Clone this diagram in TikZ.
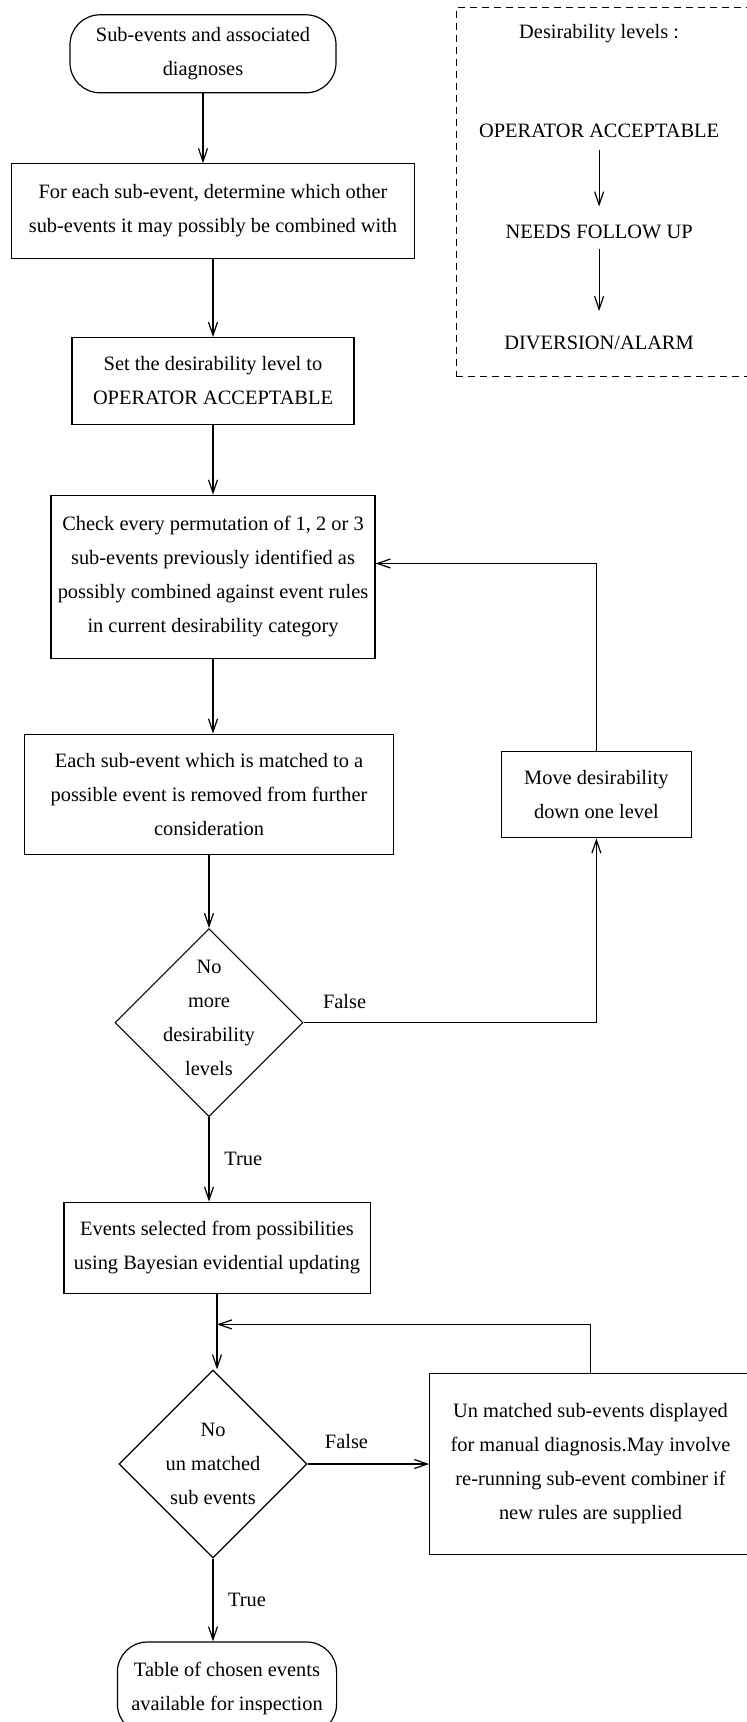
\documentclass[tikz,border=0pt]{standalone}
\usepackage{fontspec}
\setmainfont{Liberation Serif}
\usetikzlibrary{arrows.meta, positioning, shapes.geometric}

\begin{document}
\begin{tikzpicture}[
      x=1pt, y=1pt,
      every node/.style={font=\fontsize{10.2pt}{17pt}\selectfont},
      caixa/.style={draw, line width=0.6pt, align=center, inner sep=0pt},
      terminal/.style={caixa, rounded corners=15pt},
      decisao/.style={draw, line width=0.6pt, diamond, aspect=1, align=center,
                      inner sep=-6pt, minimum width=94pt, minimum height=94pt},
      seta/.style={-{Straight Barb[length=6.5pt, width=4.5pt]}, line width=0.6pt},
      rotulo/.style={inner sep=0pt}
    ]
    \useasboundingbox (0,0) rectangle (373.5,-861);
    \node[terminal, minimum width=133pt, minimum height=39pt] (ini) at (101.5,-26.9)
      {Sub-events and associated\\ diagnoses};
    \node[caixa, below=34.9pt of ini, xshift=5pt, minimum width=201.6pt, minimum height=47.2pt] (e1)
      {For each sub-event, determine which other\\ sub-events it may possibly be combined with};
    \node[caixa, below=39.1pt of e1, minimum width=141pt, minimum height=43.3pt] (e2)
      {Set the desirability level to\\ OPERATOR ACCEPTABLE};
    \node[caixa, below=34.9pt of e2, minimum width=162pt, minimum height=81.7pt] (e3)
      {Check every permutation of 1, 2 or 3\\ sub-events previously identified as\\
       possibly combined against event rules\\ in current desirability category};
    \node[caixa, below=37.2pt of e3, xshift=-2pt, minimum width=184.3pt, minimum height=60.3pt] (e4)
      {Each sub-event which is matched to a\\ possible event is removed from further\\ consideration};
    \node[decisao, below=36.3pt of e4] (d1) {No\\ more\\ desirability\\ levels\\[-12pt]\mbox{}};
    \node[caixa, right=53.6pt of e4, minimum width=94.7pt, minimum height=43.3pt] (e5)
      {Move desirability\\ down one level};
    \node[caixa, below=42.2pt of d1, xshift=4pt, minimum width=153.1pt, minimum height=45.5pt] (e6)
      {Events selected from possibilities\\ using Bayesian evidential updating};
    \coordinate[below=15.3pt of e6.south] (juncao);
    \node[decisao, below=37.8pt of e6, xshift=-2pt] (d2) {No\\ un matched\\ sub events};
    \node[caixa, right=60.8pt of d2, minimum width=160.7pt, minimum height=90.5pt] (e7)
      {Un matched sub-events displayed\\ for manual diagnosis.May involve\\
       re-running sub-event combiner if\\ new rules are supplied};
    \node[terminal, below=41.4pt of d2, xshift=7pt, minimum width=109.6pt, minimum height=46pt] (fim)
      {Table of chosen events\\ available for inspection};
    % legend of the levels
    \node[draw, dashed, dash pattern=on 3.5pt off 2.5pt, line width=0.6pt, inner sep=0pt,
          minimum width=146.9pt, minimum height=184.6pt] (legenda) at (301.55,-96) {};
    \node[below=5.1pt of legenda.north, xshift=-2pt] (titulo) {Desirability levels :};
    \node[below=33.7pt of titulo] (n1) {OPERATOR ACCEPTABLE};
    \node[below=36.3pt of n1] (n2) {NEEDS FOLLOW UP};
    \node[below=41.9pt of n2] (n3) {DIVERSION/ALARM};
    \draw[seta, shorten <=2.5pt, shorten >=5.5pt] (n1) -- (n2);
    \draw[seta, shorten <=1.9pt, shorten >=9.1pt] (n2) -- (n3);
    % main flow
    \draw[seta] (ini) -- (ini |- e1.north);
    \draw[seta] (e1) -- (e1 |- e2.north);
    \draw[seta] (e2) -- (e2 |- e3.north);
    \draw[seta] (e3) -- (e3 |- e4.north);
    \draw[seta] (e4) -- (e4 |- d1.north);
    \draw[seta] (d1) -- node[rotulo, right=7.4pt] {True} (d1 |- e6.north);
    \draw[seta] (e6) -- (e6 |- d2.north);
    \draw[seta] (d2) -- node[rotulo, right=7.3pt] {True} (d2 |- fim.north);
    % loops
    \draw[seta] (d1.east) -| node[rotulo, pos=0.07, above=6.9pt] {False} (e5.south);
    \draw[seta] (e5.north) |- ([yshift=6.7pt]e3.east);
    \draw[seta] (d2.east) -- node[rotulo, pos=0.32, above=7.6pt] {False} (e7.west);
    \draw[seta] (e7.north) |- (juncao);
  \end{tikzpicture}
\end{document}
